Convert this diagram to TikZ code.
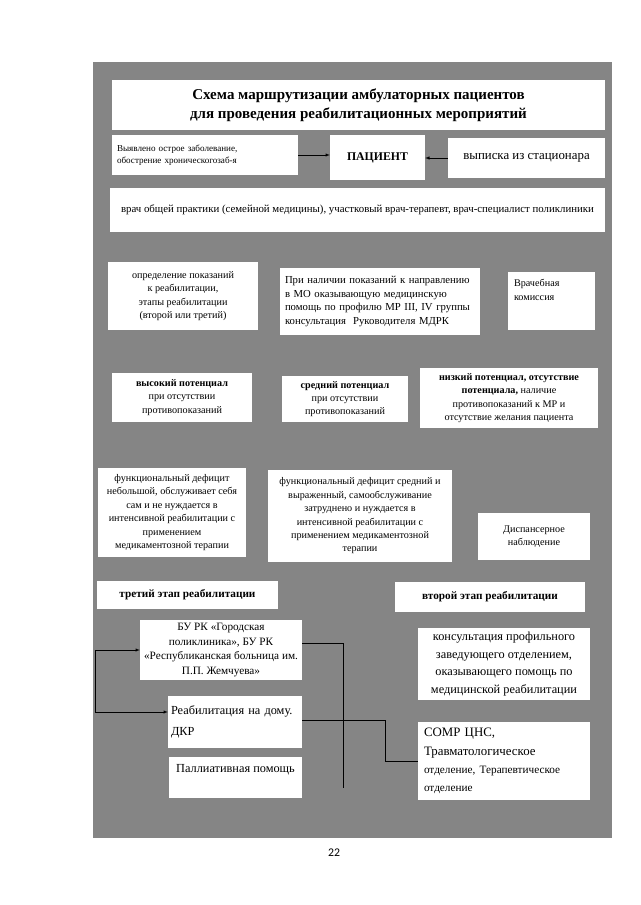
\documentclass[tikz,border=0pt]{standalone}
\usepackage{fontspec}
\setmainfont{Liberation Serif}
\newfontfamily\nomerfont{Carlito}
\usetikzlibrary{positioning}

\definecolor{fon}{gray}{0.52}
\def\pks{0.0328cm}

\tikzset{
	blok/.style={fill=white, inner sep=2pt, align=center,
		font=\fontsize{9.5}{12.5}\selectfont},
	razmer/.style 2 args={minimum width={#1*\pks}, minimum height={#2*\pks}},
	levo/.style={align=left, text width={#1*\pks}},
	zhirno/.style={font=\fontsize{10.5}{13}\selectfont\bfseries},
	strelka/.style={->, thin},
	liniya/.style={thin}
}

\begin{document}
\begin{tikzpicture}[x=\pks, y=-\pks, >=latex]

\useasboundingbox (0,0) rectangle (640,905);
\fill[white] (0,0) rectangle (640,905);
\fill[fon] (93,62) rectangle (612,838);

% zagolovok i pacient
\node[blok, razmer={493}{50}, font=\fontsize{14}{18}\selectfont\bfseries] (zagolovok) at (358.5,105)
	{Схема маршрутизации амбулаторных пациентов\\для проведения реабилитационных мероприятий};
\node[blok, razmer={186}{40}, levo=176, font=\fontsize{8.5}{11}\selectfont] (vyyavleno) at (205,155)
	{Выявлено острое заболевание,\\обострение хроническогозаб-я};
\node[blok, razmer={95}{45}, font=\fontsize{11}{13}\selectfont\bfseries] (pacient) at (377.5,157.5) {ПАЦИЕНТ};
\node[blok, razmer={157}{40}, font=\fontsize{12}{14}\selectfont] (vypiska) at (526.5,158) {выписка из стационара};
\node[blok, razmer={495}{44}, font=\fontsize{10.1}{13}\selectfont] (vrach) at (357.5,210)
	{врач общей практики (семейной медицины), участковый врач-терапевт, врач-специалист поликлиники};

% pokazaniya
\node[blok, razmer={150}{68}] (pokazaniya) at (183,296)
	{определение показаний\\к реабилитации,\\этапы реабилитации\\(второй или третий)};
\node[blok, razmer={200}{67}, levo=190, font=\fontsize{10}{13}\selectfont] (napravlenie) at (380,301.5)
	{При наличии показаний к направлению\\в МО оказывающую медицинскую\\помощь по профилю МР III, IV группы\\консультация\ \ Руководителя МДРК};
\node[blok, razmer={87}{58}, levo=75] (komissiya) at (551.5,301)
	{Врачебная\\комиссия\\[8pt]\mbox{}};

% potencial
\node[blok, razmer={140}{49}] (vysokiy) at (182,397.5)
	{\textbf{высокий потенциал}\\при отсутствии\\противопоказаний};
\node[blok, razmer={126}{46}] (sredniy) at (345,399)
	{\textbf{средний потенциал}\\при отсутствии\\противопоказаний};
\node[blok, razmer={178}{60}] (nizkiy) at (509,398)
	{\textbf{низкий потенциал, отсутствие}\\\textbf{потенциала,} наличие\\противопоказаний к МР и\\отсутствие желания пациента};

% deficit
\node[blok, razmer={148}{89}] (deficit1) at (172,512.5)
	{функциональный дефицит\\небольшой, обслуживает себя\\сам и не нуждается в\\интенсивной реабилитации с\\применением\\медикаментозной терапии};
\node[blok, razmer={184}{92}] (deficit2) at (360,516)
	{функциональный дефицит средний и\\выраженный, самообслуживание\\затруднено и нуждается в\\интенсивной реабилитации с\\применением медикаментозной\\терапии};
\node[blok, razmer={112}{47}] (dispanser) at (534,536.5) {Диспансерное\\наблюдение};

% etapy
\node[blok, razmer={181}{28}, zhirno] (tretiy) at (187.5,595) {третий этап реабилитации};
\node[blok, razmer={190}{30}, zhirno] (vtoroy) at (490,597) {второй этап реабилитации};

\node[blok, razmer={162}{60}, font=\fontsize{10.5}{13.5}\selectfont] (bu) at (221,650)
	{БУ РК «Городская\\поликлиника», БУ РК\\«Республиканская больница им.\\П.П. Жемчуева»};
\node[blok, razmer={172}{72}, font=\fontsize{11.5}{16.5}\selectfont] (konsult) at (504,664)
	{консультация профильного\\заведующего отделением,\\оказывающего помощь по\\медицинской реабилитации};
\node[blok, razmer={134}{52}, levo=128, font=\fontsize{11.5}{19}\selectfont] (reabDom) at (235,722)
	{Реабилитация на дому.\\ДКР};
\node[blok, razmer={172}{78}, levo=160, font=\fontsize{12}{17}\selectfont] (somr) at (504,761)
	{СОМР ЦНС,\\Травматологическое\\{\fontsize{10.5}{17}\selectfont отделение, Терапевтическое}\\{\fontsize{10.5}{14}\selectfont отделение}};
\node[blok, razmer={133}{41}, font=\fontsize{11.5}{14}\selectfont] (palliativ) at (235.5,777.5)
	{Паллиативная помощь\\[2pt]\mbox{}};

\node[font=\nomerfont\fontsize{11}{13}\selectfont] (nomer) at (334,853) {22};

% strelki
\draw[strelka] (vyyavleno.east) -- (vyyavleno.east -| pacient.west);
\draw[strelka] (vypiska.west) -- (vypiska.west -| pacient.east);

\coordinate (lev1) at (95,650);
\coordinate (lev2) at (95,712);
\draw[liniya] (lev1) -- (lev2);
\draw[strelka] (lev1) -- (lev1 -| bu.west);
\draw[strelka] (lev2) -- (lev2 -| reabDom.west);

\coordinate (prav1) at (343,643);
\coordinate (prav2) at (343,788);
\coordinate (prav3) at (385,720);
\draw[liniya] (bu.east |- prav1) -- (prav1) -- (prav2);
\draw[liniya] (reabDom.east |- prav3) -- (prav3) -- (prav3 |- somr.west) -- (somr.west);

\end{tikzpicture}
\end{document}
